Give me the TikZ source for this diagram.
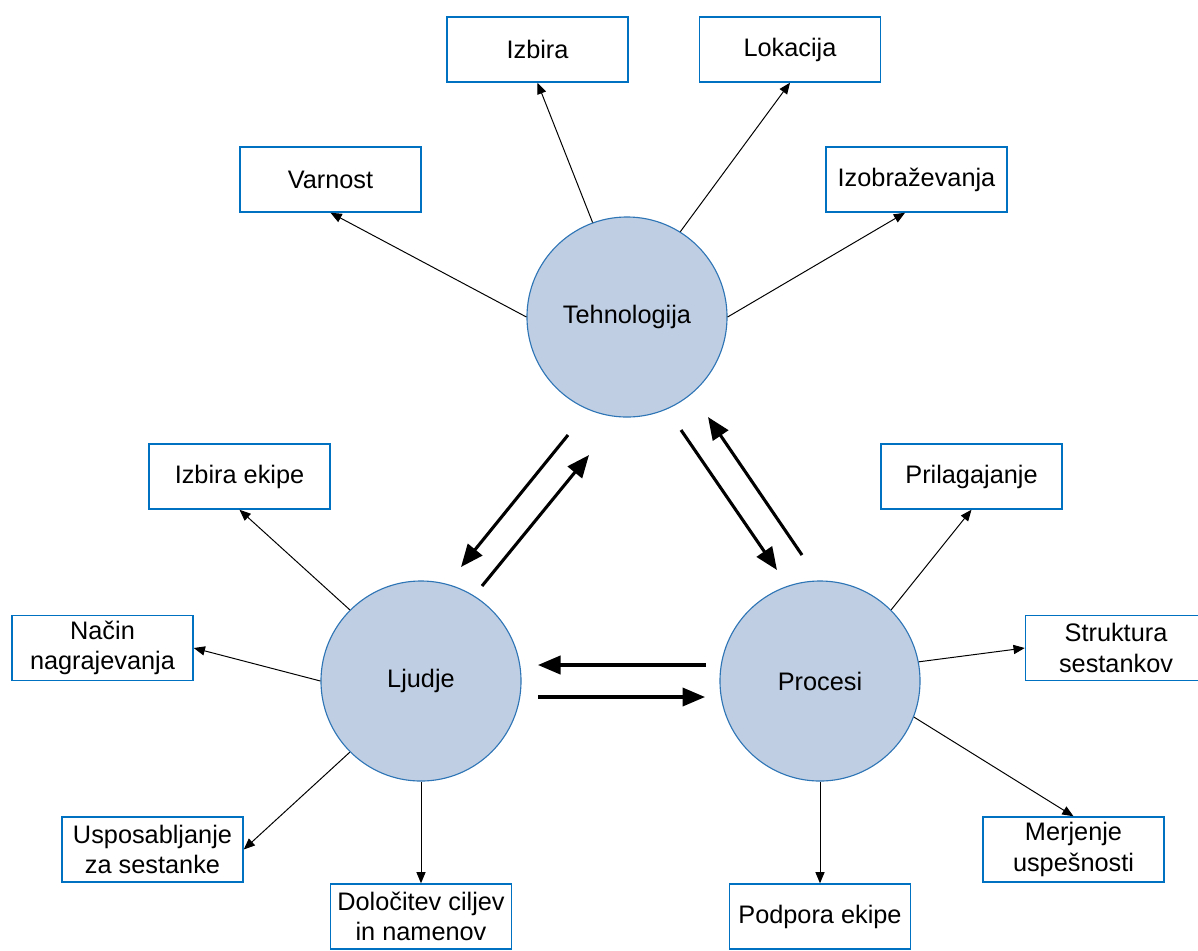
\documentclass[tikz,border=0pt]{standalone}
\usepackage{fontspec}
\setmainfont{Liberation Sans}
\usetikzlibrary{arrows.meta}
\definecolor{circfill}{RGB}{191,206,227}
\definecolor{circline}{RGB}{46,117,182}
\definecolor{boxline}{RGB}{0,112,192}
\tikzset{
  topic/.style={circle,draw=circline,line width=0.8pt,fill=circfill,minimum size=5cm,inner sep=0pt},
  item/.style={rectangle,draw=boxline,line width=1pt,fill=white,minimum width=4.525cm,minimum height=1.625cm,align=center,inner sep=2pt},
  link/.style={line width=0.7pt,-{Triangle[length=8pt,width=6.5pt]}},
  flow/.style={line width=2.2pt,-{Triangle[length=16pt,width=13pt]}}
}
\begin{document}
\begin{tikzpicture}[x=0.025cm,y=-0.025cm,font=\fontsize{18}{21.5}\selectfont]
\useasboundingbox (0,0) rectangle (1198,950);
% main topics
\node[topic] (tech) at (627,317) {Tehnologija};
\node[topic] (ljudje) at (421,681) {Ljudje};
\node[topic] (procesi) at (820,681) {Procesi};
% boxes
\node[item] (izbira) at (537.5,49.5) {Izbira};
\node[item] (lokacija) at (790,49.5) {Lokacija};
\node[item] (varnost) at (330.5,179.5) {Varnost};
\node[item] (izob) at (916.5,179.5) {Izobraževanja};
\node[item] (ekipe) at (239.5,476.5) {Izbira ekipe};
\node[item] (nacin) at (102.5,648) {Način\\nagrajevanja};
\node[item] (usposab) at (152.5,849.5) {Usposabljanje\\za sestanke};
\node[item] (dolocitev) at (421,916.5) {Določitev ciljev\\in namenov};
\node[item] (prilag) at (971.5,476.5) {Prilagajanje};
\node[item] (struktura) at (1116,648) {Struktura\\sestankov};
\node[item] (merjenje) at (1073.5,849.5) {Merjenje\\uspešnosti};
\node[item] (podpora) at (820,916.5) {Podpora ekipe};
% thin links
\draw[link] (tech.180) -- (varnost.south);
\draw[link] (tech.110) -- (izbira.south);
\draw[link] (tech.58) -- (lokacija.south);
\draw[link] (tech.0) -- (izob.-109);
\draw[link] (ljudje.135) -- (ekipe.south);
\draw[link] (ljudje.180) -- (nacin.east);
\draw[link] (ljudje.225) -- (usposab.east);
\draw[link] (ljudje.south) -- (dolocitev.north);
\draw[link] (procesi.45) -- (prilag.south);
\draw[link] (procesi.11) -- (struktura.west);
\draw[link] (procesi.-21) -- (merjenje.north);
\draw[link] (procesi.south) -- (podpora.north);
% thick arrows between topics
\coordinate (tl1) at (568,435);
\coordinate (tl2) at (461,567);
\coordinate (lt1) at (482,586);
\coordinate (lt2) at (589,455);
\coordinate (tp1) at (681,430);
\coordinate (tp2) at (777,570);
\coordinate (pt1) at (802,555);
\coordinate (pt2) at (708,417);
\coordinate (pl1) at (706,665);
\coordinate (pl2) at (538,665);
\coordinate (lp1) at (538,697);
\coordinate (lp2) at (705,697);
\draw[flow] (tl1) -- (tl2);
\draw[flow] (lt1) -- (lt2);
\draw[flow] (tp1) -- (tp2);
\draw[flow] (pt1) -- (pt2);
\draw[flow] (pl1) -- (pl2);
\draw[flow] (lp1) -- (lp2);
\end{tikzpicture}
\end{document}
